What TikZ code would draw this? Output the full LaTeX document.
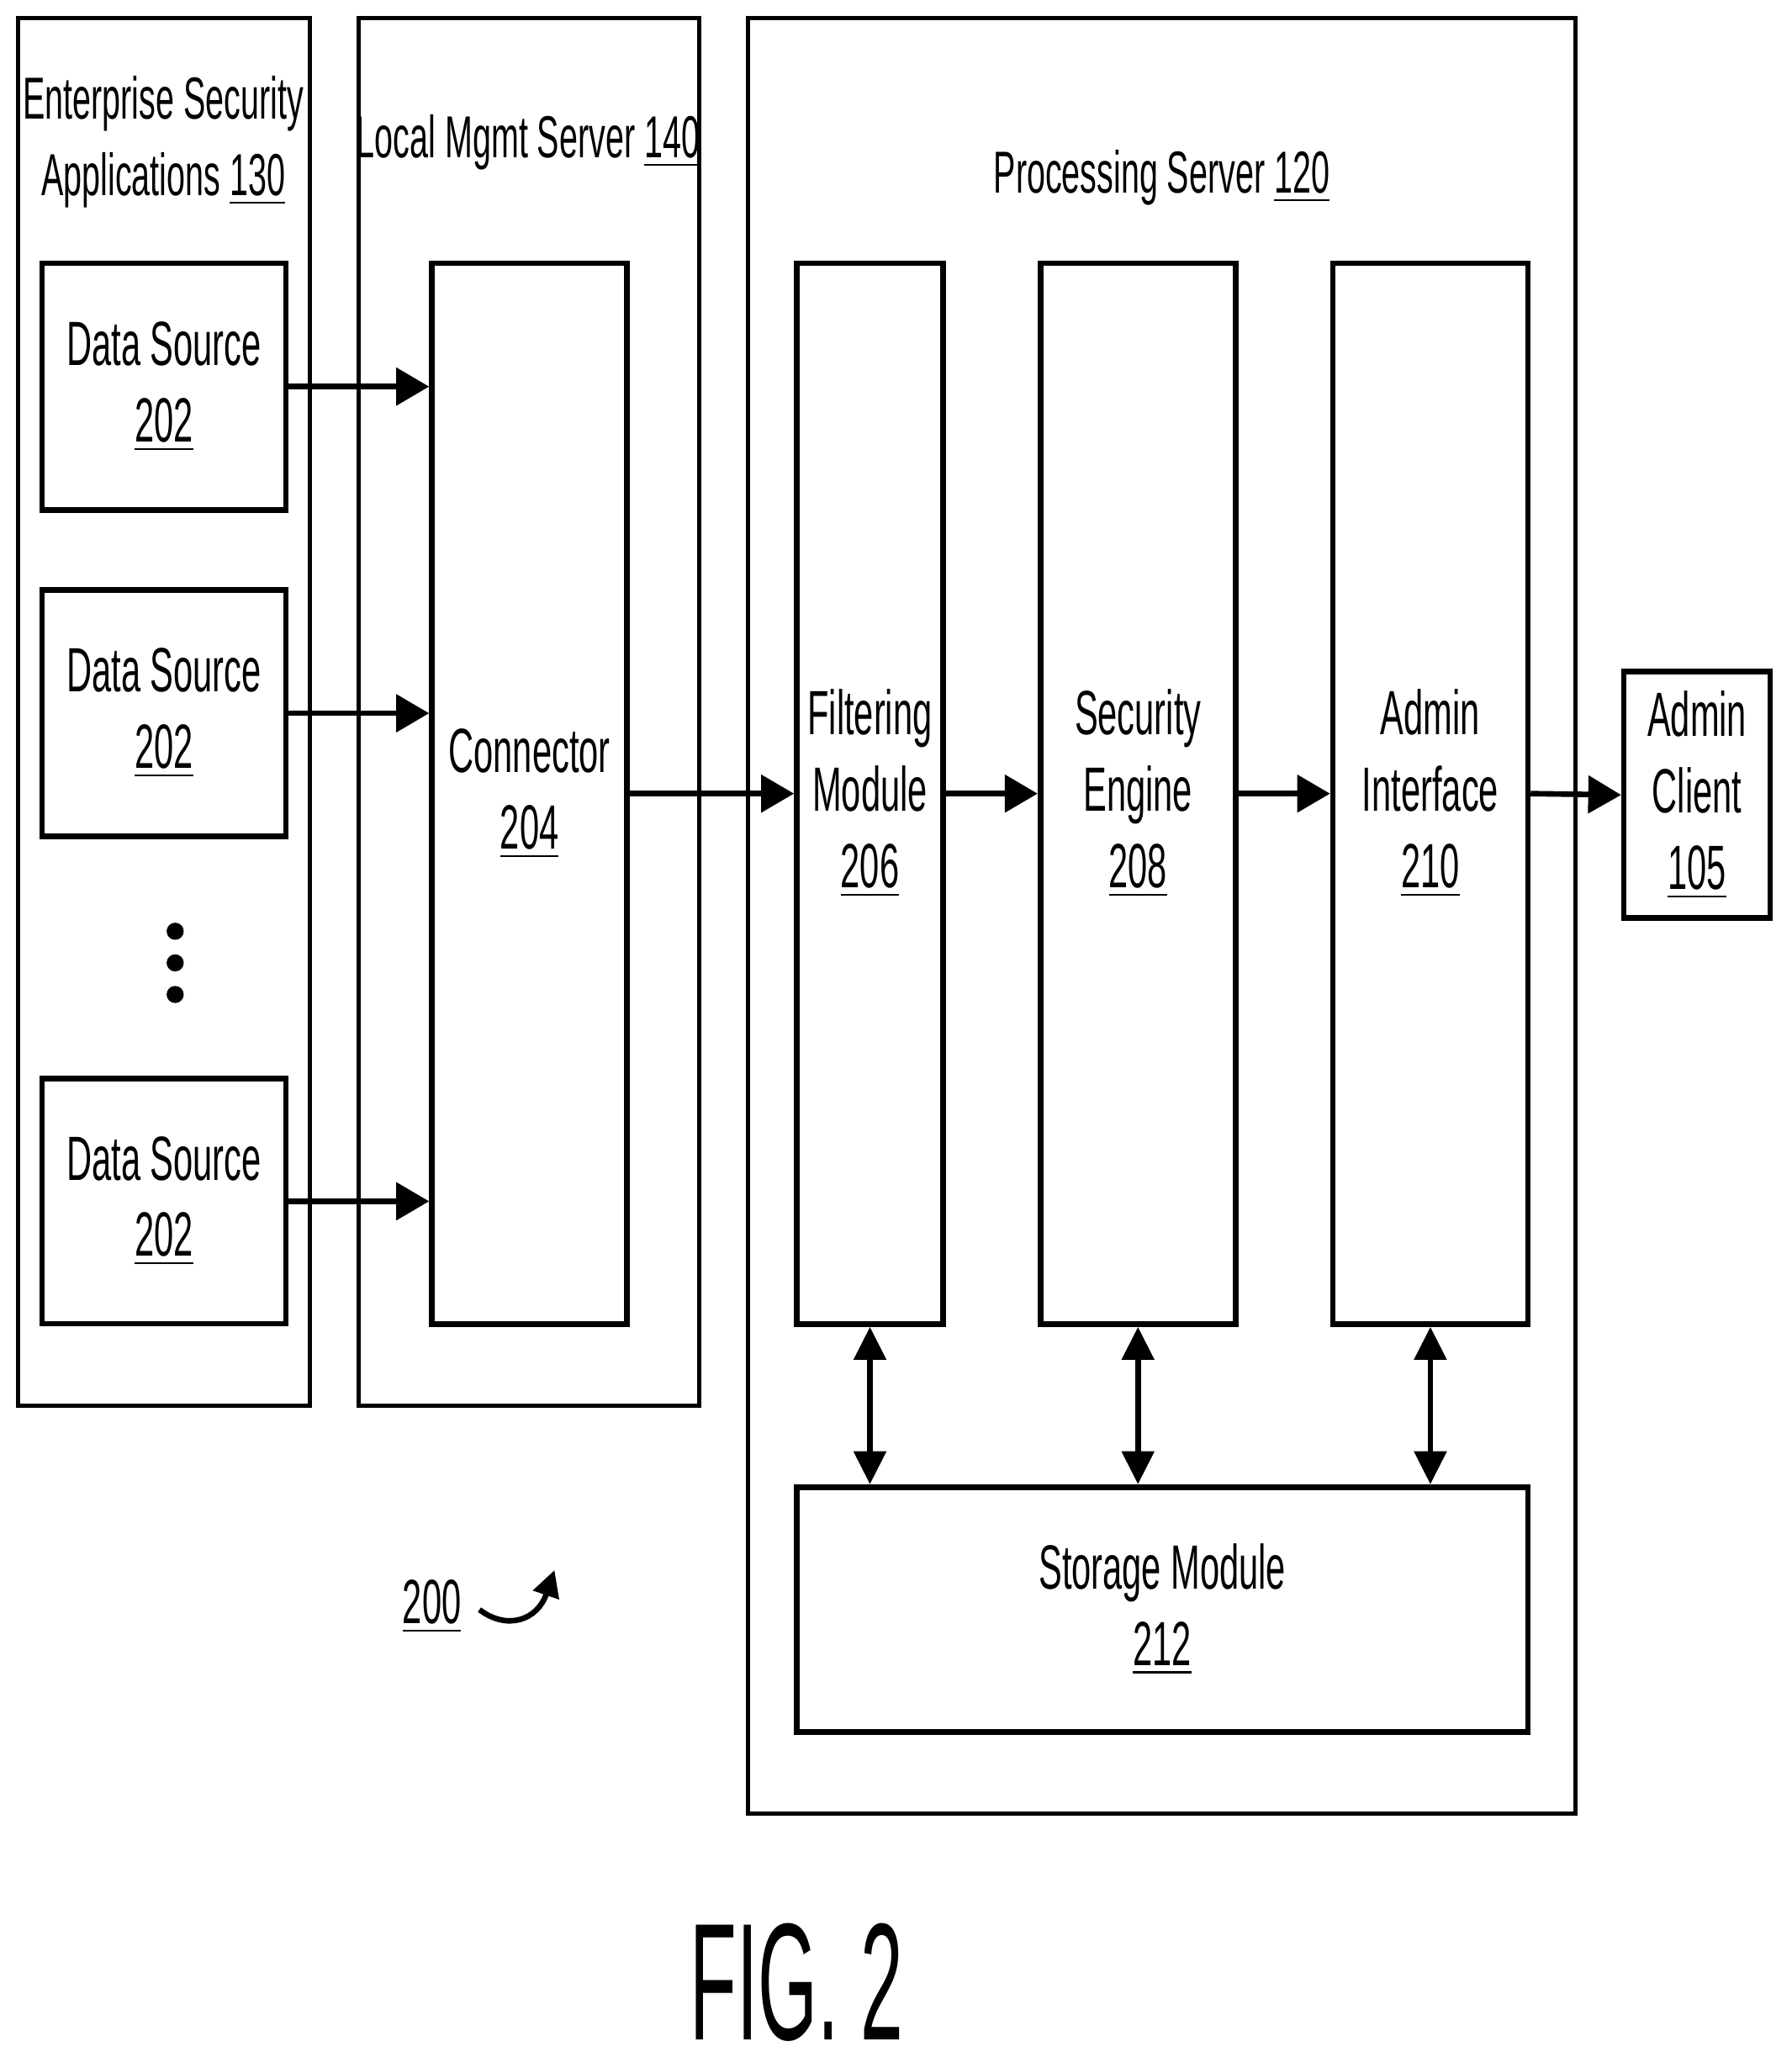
\documentclass[tikz,border=0pt]{standalone}
\usepackage{fontspec}
\setmainfont{Liberation Sans}[FakeStretch=0.56]
\newfontfamily\figfont{Liberation Sans}[FakeStretch=0.46]
\usetikzlibrary{arrows.meta}
\begin{document}
\begin{tikzpicture}[x=0.01cm,y=-0.01cm,font=\fontsize{13.5}{16.5}\selectfont,
	box/.style={draw,line width=1.2pt,align=center,inner sep=0pt},
	group/.style={draw,line width=0.9pt},
	title/.style={align=center,font=\fontsize{12.8}{16.5}\selectfont},
	dot/.style={fill,circle,inner sep=0pt,minimum size=1.3mm},
	flow/.style={line width=1.2pt,-{Triangle[length=0.25cm,width=0.28cm]}},
	both/.style={line width=1.2pt,{Triangle[length=0.25cm,width=0.24cm]}-{Triangle[length=0.25cm,width=0.24cm]}}]
	\useasboundingbox (0,0) rectangle (1360,1570);

	% outer groups
	\draw[group] (14,14) rectangle (235,1067);
	\draw[group] (272,14) rectangle (531,1067);
	\draw[group] (568,14) rectangle (1196,1377);
	\node (esa) [title] at (124,108) {Enterprise Security\\Applications \underline{130}};
	\node (lms) [title] at (401,108) {Local Mgmt Server \underline{140}};
	\node (ps) [title] at (882,135) {Processing Server \underline{120}};

	% data sources
	\node (ds1) [box,minimum width=1.85cm,minimum height=1.87cm] at (124.5,293.5) {Data Source\\\underline{202}};
	\node (ds2) [box,minimum width=1.85cm,minimum height=1.87cm] at (124.5,541.5) {Data Source\\\underline{202}};
	\node (ds3) [box,minimum width=1.85cm,minimum height=1.86cm] at (124.5,912) {Data Source\\\underline{202}};
	\node (dot1) [dot] at (133,707) {};
	\node (dot2) [dot] at (133,731) {};
	\node (dot3) [dot] at (133,755) {};

	% modules
	\node (con) [box,minimum width=1.48cm,minimum height=8.05cm] at (402,602.5) {Connector\\\underline{204}};
	\node (fil) [box,minimum width=1.11cm,minimum height=8.05cm] at (660.5,602.5) {Filtering\\Module\\\underline{206}};
	\node (sec) [box,minimum width=1.48cm,minimum height=8.05cm] at (864,602.5) {Security\\Engine\\\underline{208}};
	\node (adm) [box,minimum width=1.48cm,minimum height=8.05cm] at (1086,602.5) {Admin\\Interface\\\underline{210}};
	\node (cli) [box,minimum width=1.11cm,minimum height=1.87cm] at (1288.5,603.5) {Admin\\Client\\\underline{105}};
	\node (sto) [box,minimum width=5.55cm,minimum height=1.86cm] at (882.5,1222) {Storage Module\\\underline{212}};

	% connectors
	\draw[flow] (ds1.east) -- (ds1.east -| con.west);
	\draw[flow] (ds2.east) -- (ds2.east -| con.west);
	\draw[flow] (ds3.east) -- (ds3.east -| con.west);
	\draw[flow] (con.east) -- (fil.west);
	\draw[flow] (fil.east) -- (sec.west);
	\draw[flow] (sec.east) -- (adm.west);
	\draw[flow] (adm.east) -- (cli.west);
	\draw[both] (fil.south) -- (fil.south |- sto.north);
	\draw[both] (sec.south) -- (sec.south |- sto.north);
	\draw[both] (adm.south) -- (adm.south |- sto.north);

	% reference number
	\node (ref) at (328,1220) {\underline{200}};
	\coordinate (refend) at (421,1192);
	\draw[line width=1.2pt,-{Triangle[length=0.2cm,width=0.2cm]}] (364,1222) .. controls (385,1238) and (408,1230) .. (refend);
	\node (fig) [font=\figfont\fontsize{36}{40}\selectfont] at (605,1505) {FIG. 2};
\end{tikzpicture}
\end{document}
